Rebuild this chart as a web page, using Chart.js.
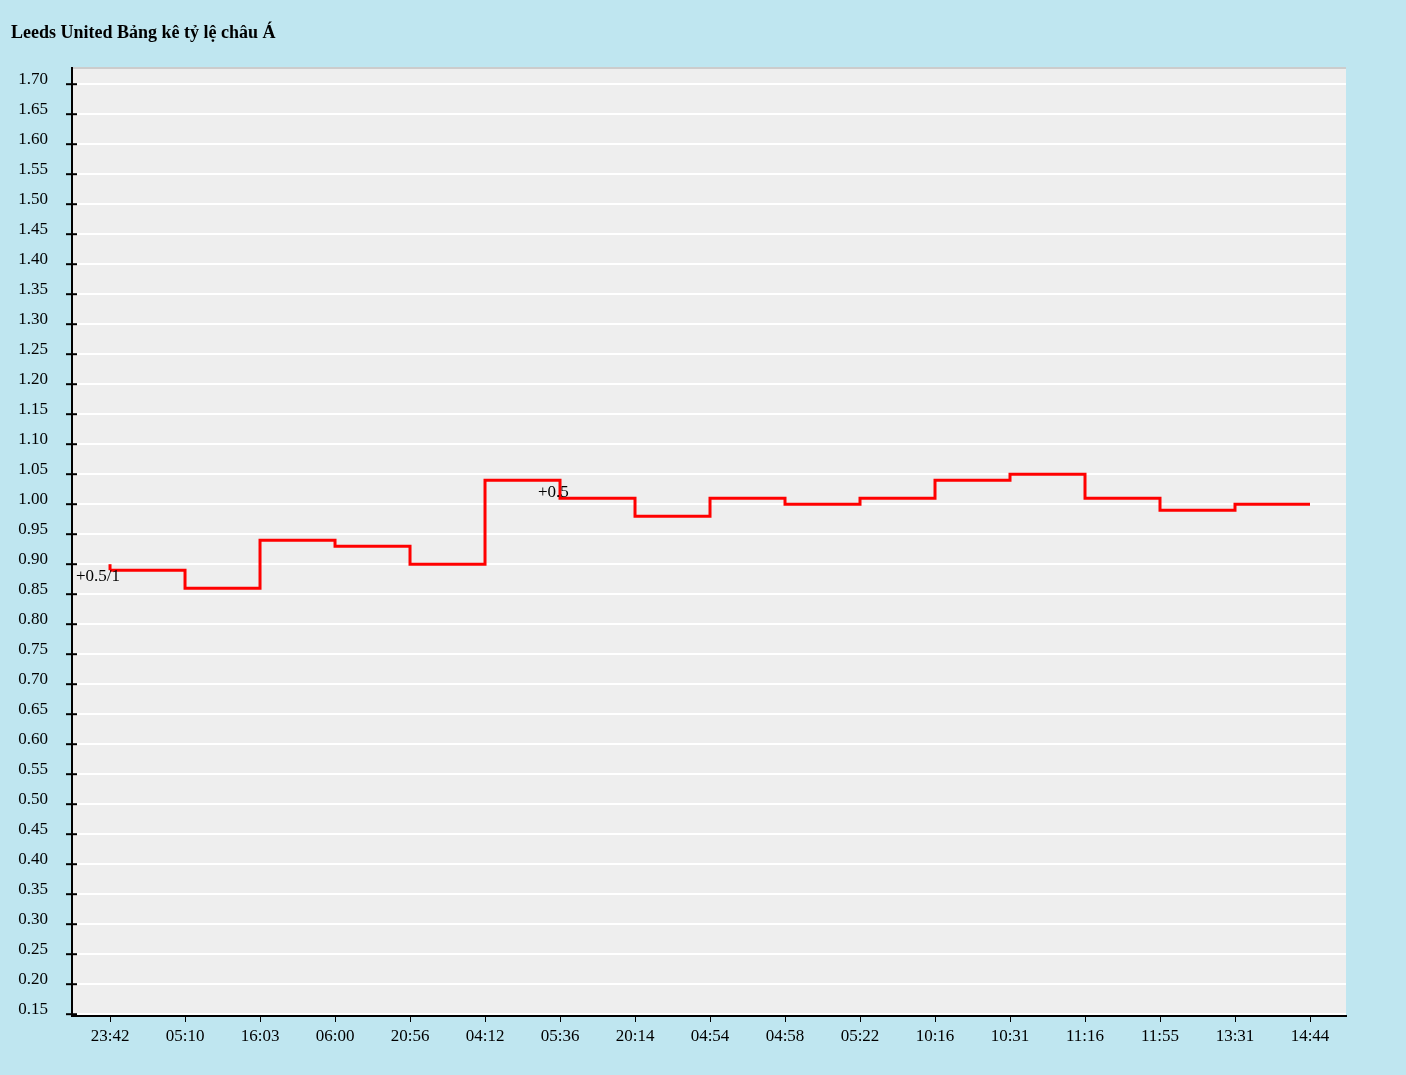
<!DOCTYPE html>
<html><head><meta charset="utf-8">
<script src="https://cdn.jsdelivr.net/npm/chart.js@4"></script>
<style>html,body{margin:0;background:#bfe6f0}#c{display:block}</style>
</head><body>
<canvas id="c" width="1406" height="1075"></canvas>
<script>
// data
const times = ['23:42','05:10','16:03','06:00','20:56','04:12','05:36','20:14','04:54','04:58','05:22','10:16','10:31','11:16','11:55','13:31','14:44'];
const odds = [0.89,0.86,0.94,0.93,0.90,1.04,1.01,0.98,1.01,1.00,1.01,1.04,1.05,1.01,0.99,1.00,1.00];
const notes = [{i:0, v:0.89, text:'+0.5/1', dx:-34, dy:6}, {i:6, v:1.01, text:'+0.5', dx:-22, dy:-6}];
const yTicks = [];
for (let k = 3; k <= 34; k++) yTicks.push(+(k*0.05).toFixed(2));

const deco = {
    id: 'deco',
    beforeDraw(chart) {
        const {ctx, chartArea: a} = chart;
        ctx.save();
        ctx.fillStyle = '#eeeeee';
        ctx.fillRect(a.left, a.top, a.right - a.left, a.bottom - a.top);
        ctx.strokeStyle = '#cccccc'; ctx.lineWidth = 2;
        ctx.beginPath(); ctx.moveTo(a.left, a.top); ctx.lineTo(a.right, a.top); ctx.stroke();
        ctx.fillStyle = '#000';
        ctx.font = 'bold 18px "Liberation Serif", serif';
        ctx.textBaseline = 'middle';
        ctx.fillText('Leeds United Bảng kê tỷ lệ châu Á', 11, 33);
        ctx.restore();
    },
    afterDatasetsDraw(chart) {
        const {ctx, scales: {x, y}} = chart;
        ctx.save();
        // short stub at the opening line
        ctx.strokeStyle = '#ff0000'; ctx.lineWidth = 3;
        ctx.beginPath(); ctx.moveTo(x.getPixelForValue(0), y.getPixelForValue(0.90)); ctx.lineTo(x.getPixelForValue(0), y.getPixelForValue(0.89)); ctx.stroke();
        // y tick marks crossing the axis
        ctx.strokeStyle = '#000'; ctx.lineWidth = 2;
        yTicks.forEach(v => { const p = y.getPixelForValue(v); ctx.beginPath(); ctx.moveTo(66, p); ctx.lineTo(77, p); ctx.stroke(); });
        ctx.fillStyle = '#000';
        ctx.font = '17px "Liberation Serif", serif';
        ctx.textBaseline = 'middle';
        notes.forEach(n => ctx.fillText(n.text, x.getPixelForValue(n.i) + n.dx, y.getPixelForValue(n.v) + n.dy));
        ctx.restore();
    }
};

new Chart(document.getElementById('c'), {
    type: 'line',
    data: {
        datasets: [{
            data: odds.map((v, i) => ({x: i, y: v})),
            borderColor: '#ff0000', borderWidth: 3, pointRadius: 0, stepped: true, fill: false
        }]
    },
    options: {
        responsive: false, animation: false,
        layout: {padding: {top: 68, right: 60, left: 0, bottom: 0}},
        plugins: {legend: {display: false}, tooltip: {enabled: false}},
        scales: {
            x: {
                type: 'linear', min: -0.507, max: 16.48,
                afterBuildTicks: s => { s.ticks = times.map((t, i) => ({value: i})); },
                afterFit: s => { s.height = 59; },
                ticks: {callback: v => times[v], color: '#000', font: {family: '"Liberation Serif", serif', size: 17}, maxRotation: 0, autoSkip: false, padding: 4},
                grid: {drawOnChartArea: false, color: '#000', tickLength: 6},
                border: {color: '#000', width: 2}
            },
            y: {
                min: 0.147, max: 1.727,
                afterBuildTicks: s => { s.ticks = yTicks.map(v => ({value: v})); },
                afterFit: s => { s.width = 72; },
                ticks: {callback: v => v.toFixed(2), color: '#000', font: {family: '"Liberation Serif", serif', size: 17}, labelOffset: -5, padding: 18},
                grid: {color: '#ffffff', lineWidth: 2, tickColor: 'rgba(0,0,0,0)', tickLength: 6},
                border: {color: '#000', width: 2}
            }
        }
    },
    plugins: [deco]
});
</script>
</body></html>
